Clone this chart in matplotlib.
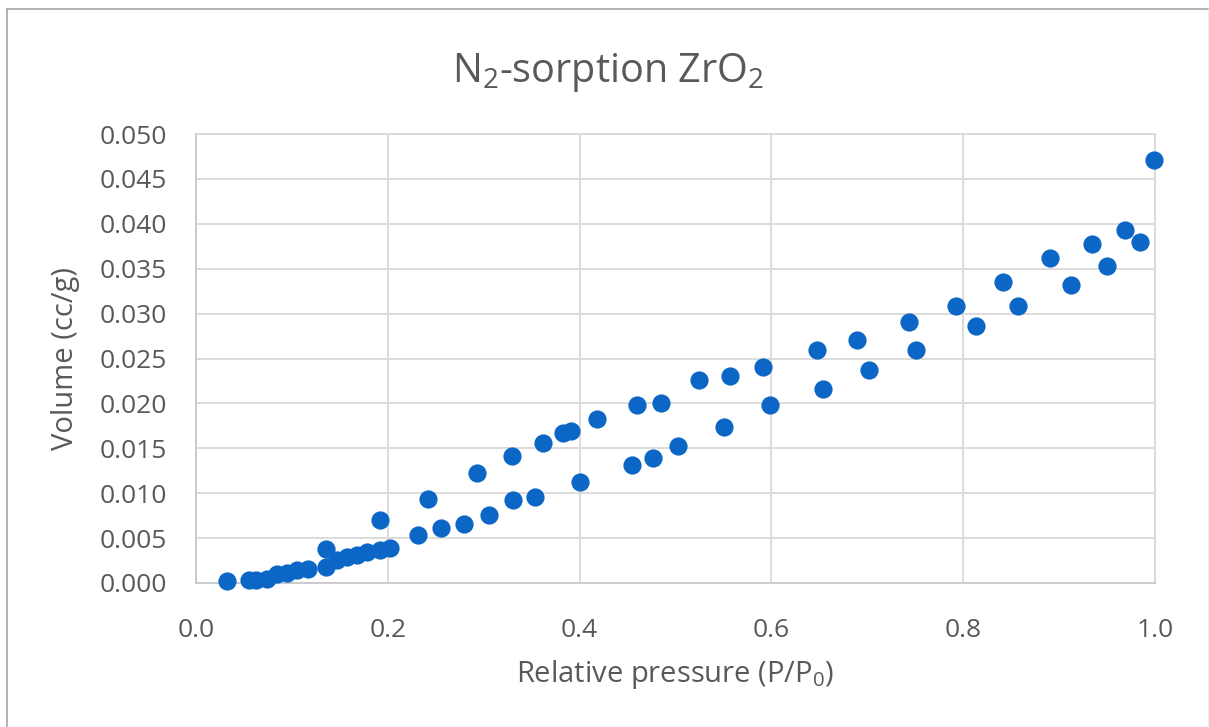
import matplotlib
matplotlib.use("Agg")
import matplotlib.pyplot as plt
from matplotlib.lines import Line2D

# ---- data ----
rel_pressure = [0.032, 0.055, 0.063, 0.074, 0.084, 0.095, 0.105, 0.117, 0.136, 0.136,
                0.147, 0.157, 0.168, 0.178, 0.192, 0.192, 0.202, 0.232, 0.242, 0.255,
                0.279, 0.293, 0.306, 0.329, 0.331, 0.354, 0.362, 0.383, 0.391, 0.400,
                0.418, 0.455, 0.460, 0.477, 0.485, 0.503, 0.525, 0.551, 0.557, 0.591,
                0.599, 0.648, 0.654, 0.689, 0.702, 0.743, 0.751, 0.792, 0.813, 0.842,
                0.857, 0.890, 0.912, 0.934, 0.950, 0.969, 0.984, 0.999]
volume = [0.0002, 0.0003, 0.0003, 0.0004, 0.0010, 0.0011, 0.0014, 0.0016, 0.0038, 0.0018,
          0.0026, 0.0029, 0.0031, 0.0034, 0.0070, 0.0037, 0.0039, 0.0053, 0.0094, 0.0061,
          0.0066, 0.0122, 0.0076, 0.0141, 0.0092, 0.0096, 0.0156, 0.0167, 0.0169, 0.0112,
          0.0183, 0.0131, 0.0198, 0.0139, 0.0201, 0.0153, 0.0226, 0.0174, 0.0230, 0.0241,
          0.0198, 0.0259, 0.0216, 0.0271, 0.0237, 0.0291, 0.0259, 0.0309, 0.0286, 0.0335,
          0.0308, 0.0362, 0.0332, 0.0378, 0.0353, 0.0393, 0.0380, 0.0471]

x_ticks = [0.0, 0.2, 0.4, 0.6, 0.8, 1.0]
x_tick_labels = ["0.0", "0.2", "0.4", "0.6", "0.8", "1.0"]
y_ticks = [0.000, 0.005, 0.010, 0.015, 0.020, 0.025, 0.030, 0.035, 0.040, 0.045, 0.050]
y_tick_labels = ["%.3f" % v for v in y_ticks]

title_text = r"N$\mathregular{_2}$-sorption ZrO$\mathregular{_2}$"
x_label = r"Relative pressure (P/P$\mathregular{_0}$)"
y_label = "Volume (cc/g)"

# ---- style ----
FONT = "Open Sans"
plt.rcParams["font.family"] = [FONT, "DejaVu Sans"]
plt.rcParams["mathtext.fontset"] = "custom"
plt.rcParams["mathtext.rm"] = FONT
plt.rcParams["mathtext.it"] = FONT
plt.rcParams["mathtext.bf"] = FONT

text_color = "#595959"
grid_color = "#d9d9d9"
marker_color = "#0b66c6"

W, H = 1209, 727
fig = plt.figure(figsize=(W / 100, H / 100), dpi=100)
fig.patch.set_facecolor("white")

ax = fig.add_axes([196 / W, (H - 583) / H, (1155 - 196) / W, (583 - 134) / H])
ax.scatter(rel_pressure, volume, s=172, color=marker_color, linewidths=0, zorder=3, clip_on=False)

ax.set_xlim(0, 1.0)
ax.set_ylim(0, 0.050)
ax.set_xticks(x_ticks)
ax.set_xticklabels(x_tick_labels)
ax.set_yticks(y_ticks)
ax.set_yticklabels(y_tick_labels)

ax.grid(True, color=grid_color, linewidth=1.3, zorder=0)
ax.set_axisbelow(True)
for side in ["left", "right", "top", "bottom"]:
    ax.spines[side].set_color(grid_color)
    ax.spines[side].set_linewidth(1.3)
ax.spines["left"].set_color("#c8c8c8")
ax.spines["bottom"].set_color("#c8c8c8")

ax.tick_params(axis="both", length=0, labelsize=19, labelcolor=text_color)
ax.tick_params(axis="y", pad=21)
ax.tick_params(axis="x", pad=25)

ax.set_xlabel(x_label, fontsize=21, color=text_color, labelpad=11)
ax.set_ylabel(y_label, fontsize=21, color=text_color, labelpad=14)

fig.text(0.503, 1 - 72 / H, title_text, ha="center", va="center", fontsize=28.5, color=text_color)

# chart border (cropped at right/bottom in the reference)
fig.add_artist(Line2D([7 / W, 7 / W], [0, 1 - 9 / H], transform=fig.transFigure, color="#a6a6a6", linewidth=1.2))
fig.add_artist(Line2D([7 / W, 1], [1 - 9 / H, 1 - 9 / H], transform=fig.transFigure, color="#a6a6a6", linewidth=1.2))
fig.add_artist(Line2D([1207.5 / W, 1207.5 / W], [0, 1 - 9 / H], transform=fig.transFigure, color="#eeeeee", linewidth=1.0))

fig.savefig("out.png", dpi=100, facecolor="white")
